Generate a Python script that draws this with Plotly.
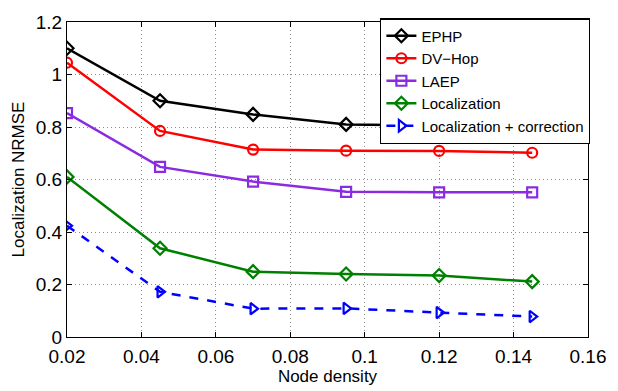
import plotly.graph_objects as go

# Node density sampled in the experiment
density = [0.02, 0.045, 0.07, 0.095, 0.12, 0.145]

# Localization NRMSE per method
ephp = [1.10, 0.90, 0.848, 0.81, 0.806, 0.80]
dv_hop = [1.045, 0.785, 0.714, 0.71, 0.709, 0.702]
laep = [0.853, 0.648, 0.592, 0.553, 0.551, 0.551]
localization = [0.61, 0.338, 0.249, 0.24, 0.234, 0.211]
loc_correction = [0.424, 0.172, 0.108, 0.109, 0.093, 0.078]

x_ticks = [0.02, 0.04, 0.06, 0.08, 0.1, 0.12, 0.14, 0.16]
y_ticks = [0, 0.2, 0.4, 0.6, 0.8, 1, 1.2]

series = [
    ("EPHP", ephp, "#000000", "diamond-open", "solid"),
    ("DV\u2212Hop", dv_hop, "#ff0000", "circle-open", "solid"),
    ("LAEP", laep, "#8a2be2", "square-open", "solid"),
    ("Localization", localization, "#008000", "diamond-open", "solid"),
    ("Localization + correction", loc_correction, "#0000ff", "triangle-right-open", "dash"),
]

fig = go.Figure()
for name, vals, color, symbol, dash in series:
    fig.add_trace(go.Scatter(
        x=density, y=vals, name=name, mode="lines+markers",
        line=dict(color=color, width=2.5, dash=dash),
        marker=dict(symbol=symbol, size=10, color=color,
                    line=dict(color=color, width=2.2)),
    ))

font_family = "Liberation Sans, Arial, Helvetica, sans-serif"
axis_common = dict(
    showline=True, linecolor="black", linewidth=1.3, mirror="ticks",
    ticks="inside", ticklen=5, tickcolor="black",
    showgrid=True, gridcolor="#8c8c8c", griddash="1px,3px", gridwidth=1,
    zeroline=False, tickfont=dict(size=19, color="black"),
)

fig.update_layout(
    width=618, height=391,
    margin=dict(l=67, r=22, t=16, b=49),
    paper_bgcolor="white", plot_bgcolor="white",
    font=dict(family=font_family, color="black"),
    xaxis=dict(range=[0.02, 0.16], tickvals=x_ticks,
               ticktext=[f"{v:g}" for v in x_ticks],
               ticklabelstandoff=2,
               title=dict(text="Node density", font=dict(size=17), standoff=0),
               **axis_common),
    yaxis=dict(range=[0, 1.2], tickvals=y_ticks,
               ticktext=[f"{v:g}" for v in y_ticks],
               title=dict(text="Localization NRMSE", font=dict(size=17), standoff=6),
               **axis_common),
    legend=dict(x=1.004, y=1.012, xanchor="right", yanchor="top",
                bgcolor="white", bordercolor="black", borderwidth=1.3,
                font=dict(size=15), tracegroupgap=0, itemwidth=30),
    showlegend=True,
)

fig.write_html("out.html")
